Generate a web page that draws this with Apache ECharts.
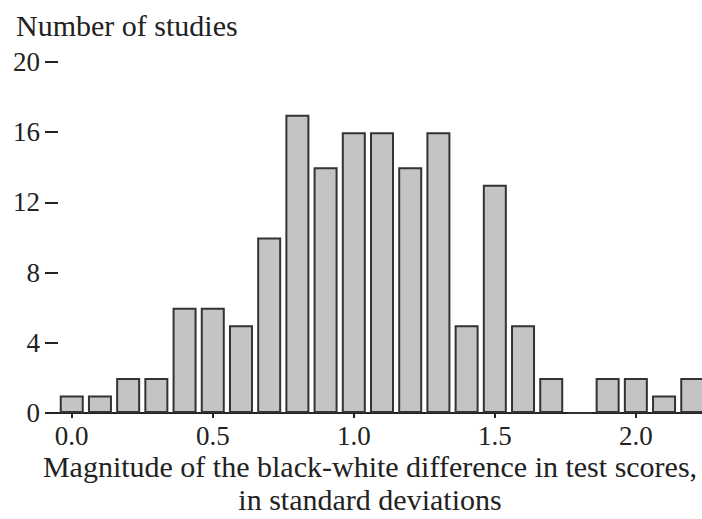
<!DOCTYPE html>
<html>
<head>
<meta charset="utf-8">
<script src="https://cdn.jsdelivr.net/npm/echarts@6/dist/echarts.min.js"></script>
<style>
html,body{margin:0;padding:0;background:#fff;}
#chart{width:702px;height:519px;}
</style>
</head>
<body>
<div id="chart"></div>
<script>
// Bin centers (standard deviations) and number of studies per bin
var binCenters = [0.0, 0.1, 0.2, 0.3, 0.4, 0.5, 0.6, 0.7, 0.8, 0.9, 1.0, 1.1, 1.2, 1.3, 1.4, 1.5, 1.6, 1.7, 1.8, 1.9, 2.0, 2.1, 2.2];
var studyCounts = [1, 1, 2, 2, 6, 6, 5, 10, 17, 14, 16, 16, 14, 16, 5, 13, 5, 2, 0, 2, 2, 1, 2];
var xTickValues = [0.0, 0.5, 1.0, 1.5, 2.0];
var yTicks = [0, 4, 8, 12, 16, 20];
var yAxisTitle = "Number of studies";
var xAxisTitle = "Magnitude of the black-white difference in test scores,\nin standard deviations";

var seriesData = binCenters.map(function (c, i) { return [c, studyCounts[i]]; });

var serif = "'Liberation Serif', 'DejaVu Serif', serif";
var textColor = '#222';

var chart = echarts.init(document.getElementById('chart'), null, {renderer: 'svg'});
chart.setOption({
  animation: false,
  backgroundColor: '#fff',
  title: {
    text: yAxisTitle,
    left: 11,
    top: 5,
    textStyle: {fontFamily: serif, fontSize: 30, fontWeight: 'normal', color: textColor}
  },
  grid: [
    {left: 52, top: 62, width: 660, height: 351, containLabel: false, outerBoundsMode: 'none'},
    {left: 58, top: 62, width: 600, height: 351, containLabel: false, outerBoundsMode: 'none'}
  ],
  xAxis: [{
    type: 'value',
    gridIndex: 0,
    min: -0.07,
    max: 2.27,
    splitLine: {show: false},
    axisLine: {show: true, lineStyle: {color: '#222', width: 2}},
    axisTick: {show: true, customValues: xTickValues, length: 5, lineStyle: {color: '#222', width: 2}},
    axisLabel: {
      customValues: xTickValues,
      formatter: function (v) { return v.toFixed(1); },
      fontFamily: serif, fontSize: 27, lineHeight: 27, color: textColor, margin: 9
    },
    name: xAxisTitle,
    nameLocation: 'middle',
    nameGap: 37,
    nameMoveOverlap: false,
    nameTextStyle: {fontFamily: serif, fontSize: 30, color: textColor, lineHeight: 33, padding: [0, 24, 0, 0]}
  }, {
    type: 'value',
    gridIndex: 1,
    min: 0,
    max: 1,
    show: false
  }],
  yAxis: [{
    type: 'value',
    gridIndex: 0,
    min: yTicks[0],
    max: yTicks[yTicks.length - 1],
    interval: 4,
    show: false
  }, {
    type: 'value',
    gridIndex: 1,
    min: yTicks[0],
    max: yTicks[yTicks.length - 1],
    interval: 4,
    splitLine: {show: false},
    axisLine: {show: false},
    axisTick: {show: true, length: 13, lineStyle: {color: '#222', width: 2}},
    axisLabel: {fontFamily: serif, fontSize: 27, color: textColor, margin: 18}
  }],
  series: [{
    type: 'bar',
    xAxisIndex: 0,
    yAxisIndex: 0,
    data: seriesData,
    barWidth: 24,
    itemStyle: {color: '#c4c4c4', borderColor: '#333', borderWidth: 2}
  }]
});
</script>
</body>
</html>
